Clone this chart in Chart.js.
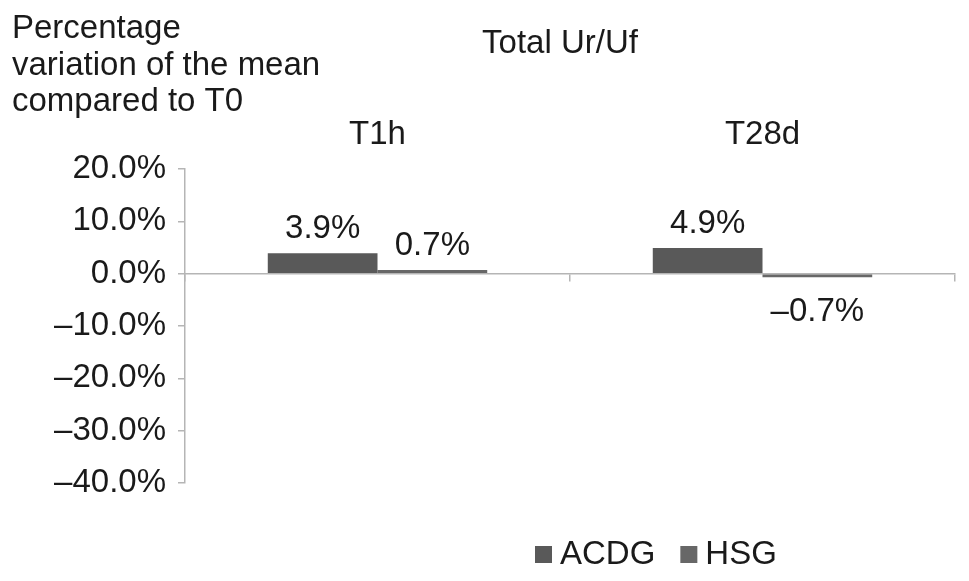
<!DOCTYPE html>
<html>
<head>
<meta charset="utf-8">
<script src="https://cdn.jsdelivr.net/npm/chart.js@4/dist/chart.umd.min.js"></script>
<style>
  body { margin: 0; background: #fff; }
  #wrap { width: 969px; height: 581px; position: relative; }
</style>
</head>
<body>
<div id="wrap"><canvas id="myChart"></canvas></div>
<script>
var categories = ['T1h', 'T28d'];
var acdgValues = [3.9, 4.9];
var hsgValues = [0.7, -0.7];
var yTicks = [-40, -30, -20, -10, 0, 10, 20];
var yLabelLines = ['Percentage', 'variation of the mean', 'compared to T0'];
var chartTitle = 'Total Ur/Uf';

var FONT = '"Liberation Sans", Arial, sans-serif';
var TEXT = '#1a1a1a';

function fmt(v) {
    var s = Math.abs(v).toFixed(1) + '%';
    return v < 0 ? '\u2013' + s : s;
}

// free text: y label (horizontal, top left) and the title
var textPlugin = {
    id: 'freeText',
    afterDraw: function(chart) {
        var ctx = chart.ctx;
        ctx.save();
        ctx.fillStyle = TEXT;
        ctx.font = '33px ' + FONT;
        ctx.textAlign = 'left';
        ctx.textBaseline = 'alphabetic';
        yLabelLines.forEach(function(line, i) {
            ctx.fillText(line, 12, 38 + i * 36.5);
        });
        ctx.textAlign = 'center';
        ctx.fillText(chartTitle, 560, 53);
        ctx.restore();
    }
};

// value labels on the bars
var labelPlugin = {
    id: 'barLabels',
    afterDatasetsDraw: function(chart) {
        var ctx = chart.ctx;
        ctx.save();
        ctx.fillStyle = TEXT;
        ctx.font = '33px ' + FONT;
        ctx.textAlign = 'center';
        chart.data.datasets.forEach(function(ds, di) {
            chart.getDatasetMeta(di).data.forEach(function(bar, i) {
                var v = ds.data[i];
                if (v >= 0) {
                    ctx.textBaseline = 'bottom';
                    ctx.fillText(fmt(v), bar.x, bar.y - 8);
                } else {
                    ctx.textBaseline = 'top';
                    ctx.fillText(fmt(v), bar.x, bar.y + 18);
                }
            });
        });
        ctx.restore();
    }
};

// legend below the plot
var legendPlugin = {
    id: 'bottomLegend',
    afterDraw: function(chart) {
        var ctx = chart.ctx;
        var x = chart.chartArea.left + 350;
        var y = chart.chartArea.bottom + 71;
        ctx.save();
        ctx.font = '33px ' + FONT;
        ctx.textBaseline = 'middle';
        ctx.textAlign = 'left';
        chart.data.datasets.forEach(function(ds) {
            ctx.fillStyle = ds.backgroundColor;
            ctx.fillRect(x, y - 8, 17, 17);
            ctx.fillStyle = TEXT;
            ctx.fillText(ds.label, x + 25, y + 1);
            x += 25 + ctx.measureText(ds.label).width + 25;
        });
        ctx.restore();
    }
};

var ctx = document.getElementById('myChart').getContext('2d');
var myChart = new Chart(ctx, {
    type: 'bar',
    data: {
        labels: categories,
        datasets: [{
            label: 'ACDG',
            data: acdgValues,
            backgroundColor: '#595959'
        }, {
            label: 'HSG',
            data: hsgValues,
            backgroundColor: '#676767'
        }]
    },
    options: {
        responsive: true,
        maintainAspectRatio: false,
        animation: false,
        devicePixelRatio: 1,
        barPercentage: 1.0,
        categoryPercentage: 0.57,
        layout: {
            padding: { top: 114, right: 14, bottom: 98, left: 0 }
        },
        plugins: {
            legend: { display: false },
            tooltip: { enabled: false },
            title: { display: false }
        },
        scales: {
            x: {
                position: { y: 0 },
                offset: true,
                ticks: { display: false },
                grid: {
                    offset: true,
                    drawOnChartArea: false,
                    tickLength: 7,
                    color: '#b5b5b5',
                    lineWidth: 1.5
                },
                border: { color: '#b5b5b5', width: 1.5 },
                afterFit: function(scale) { scale.height = 0; }
            },
            x2: {
                type: 'category',
                position: 'top',
                offset: true,
                labels: categories,
                grid: { display: false },
                border: { display: false },
                ticks: {
                    color: TEXT,
                    font: { family: FONT, size: 33 },
                    padding: 6
                },
                afterFit: function(scale) { scale.height = 55; }
            },
            y: {
                min: yTicks[0],
                max: yTicks[yTicks.length - 1],
                afterBuildTicks: function(scale) {
                    scale.ticks = yTicks.map(function(v) { return { value: v }; });
                },
                ticks: {
                    color: TEXT,
                    font: { family: FONT, size: 33 },
                    padding: 12,
                    callback: function(v) { return fmt(v); }
                },
                grid: {
                    drawOnChartArea: false,
                    tickLength: 7,
                    color: '#b5b5b5',
                    lineWidth: 1.5
                },
                border: { color: '#b5b5b5', width: 1.5 },
                afterFit: function(scale) { scale.width = 185; }
            }
        }
    },
    plugins: [labelPlugin, textPlugin, legendPlugin]
});
</script>
</body>
</html>
